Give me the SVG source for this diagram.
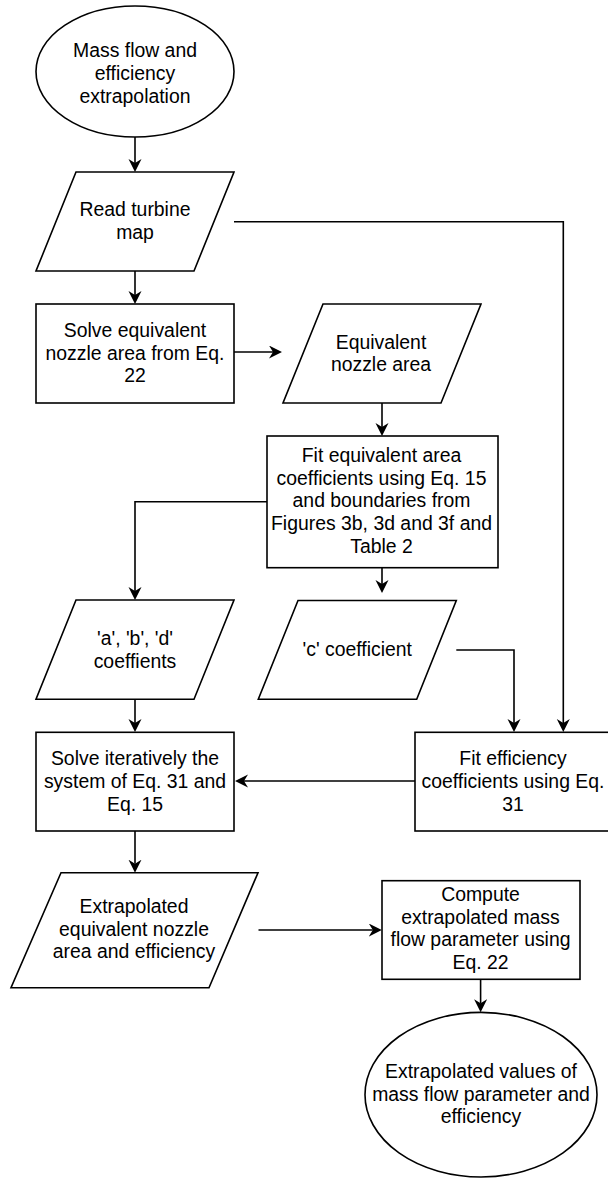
<svg xmlns="http://www.w3.org/2000/svg" width="608" height="1178" viewBox="0 0 608 1178">
<style>
.s{fill:#fff;stroke:#000;stroke-width:1.6}
.c{fill:none;stroke:#000;stroke-width:1.6}
text{font-family:"Liberation Sans",Arial,Helvetica,sans-serif;font-size:19.4px;fill:#000;text-anchor:middle}
</style>
<defs>
<marker id="ah" markerUnits="userSpaceOnUse" markerWidth="14" markerHeight="14" viewBox="0 0 14 14" refX="4" refY="6.5" orient="auto">
<path d="M0,0 L13,6.5 L0,13 L4,6.5 Z" fill="#000"/>
</marker>
</defs>
<rect width="608" height="1178" fill="#fff"/>
<g id="connectors">
<path class="c" d="M135,137 V163" marker-end="url(#ah)"/>
<path class="c" d="M135,271 V295" marker-end="url(#ah)"/>
<path class="c" d="M234,221.7 H563.3 V723" marker-end="url(#ah)"/>
<path class="c" d="M234,352 H273" marker-end="url(#ah)"/>
<path class="c" d="M382,403 V427" marker-end="url(#ah)"/>
<path class="c" d="M267,501.7 H135 V591" marker-end="url(#ah)"/>
<path class="c" d="M382,567.7 V584" marker-end="url(#ah)"/>
<path class="c" d="M456.3,650 H514 V723" marker-end="url(#ah)"/>
<path class="c" d="M135,699.3 V723" marker-end="url(#ah)"/>
<path class="c" d="M415,781 H244" marker-end="url(#ah)"/>
<path class="c" d="M135,831 V863.7" marker-end="url(#ah)"/>
<path class="c" d="M258.5,930 H372.8" marker-end="url(#ah)"/>
<path class="c" d="M480.6,979.3 V1003.3" marker-end="url(#ah)"/>
</g>
<g id="start">
<ellipse class="s" cx="135" cy="71.5" rx="99" ry="65.5"/>
<text x="135" y="57">Mass flow and</text>
<text x="135" y="80">efficiency</text>
<text x="135" y="103">extrapolation</text>
</g>
<g id="read-map">
<polygon class="s" points="76,172 234,172 194,271 36,271"/>
<text x="135" y="216">Read turbine</text>
<text x="135" y="239">map</text>
</g>
<g id="solve-area">
<rect class="s" x="36" y="304" width="198" height="99"/>
<text x="135" y="337">Solve equivalent</text>
<text x="135" y="359.7">nozzle area from Eq.</text>
<text x="135" y="382.4">22</text>
</g>
<g id="eq-area">
<polygon class="s" points="323,304 481,304 441,403 283,403"/>
<text x="381" y="348.5">Equivalent</text>
<text x="381" y="371">nozzle area</text>
</g>
<g id="fit-area">
<rect class="s" x="267" y="436" width="231" height="131.7"/>
<text x="381.5" y="461.7">Fit equivalent area</text>
<text x="381.5" y="484.5">coefficients using Eq. 15</text>
<text x="381.5" y="507.3">and boundaries from</text>
<text x="381.5" y="530.1">Figures 3b, 3d and 3f and</text>
<text x="381.5" y="552.9">Table 2</text>
</g>
<g id="abd">
<polygon class="s" points="76,600 234,600 194,699.3 36,699.3"/>
<text x="135" y="645">'a', 'b', 'd'</text>
<text x="135" y="667.5">coeffients</text>
</g>
<g id="c-coef">
<polygon class="s" points="298,600.5 456.3,600.5 416.7,699.3 258.3,699.3"/>
<text x="357.3" y="656">'c' coefficient</text>
</g>
<g id="fit-eff">
<rect class="s" x="415" y="732.3" width="198" height="98.7"/>
<text x="513" y="765">Fit efficiency</text>
<text x="513" y="787.7">coefficients using Eq.</text>
<text x="513" y="810.5">31</text>
</g>
<g id="solve-iter">
<rect class="s" x="36" y="732.3" width="198" height="98.7"/>
<text x="135" y="765">Solve iteratively the</text>
<text x="135" y="787.7">system of Eq. 31 and</text>
<text x="135" y="810.5">Eq. 15</text>
</g>
<g id="extrap">
<polygon class="s" points="61,872.7 258,872.7 209,987.7 11,987.7"/>
<text x="134" y="912.7">Extrapolated</text>
<text x="134" y="935.5">equivalent nozzle</text>
<text x="134" y="958.3">area and efficiency</text>
</g>
<g id="compute">
<rect class="s" x="382" y="880.7" width="198" height="98.6"/>
<text x="480.5" y="900.7">Compute</text>
<text x="480.5" y="923.5">extrapolated mass</text>
<text x="480.5" y="946.3">flow parameter using</text>
<text x="480.5" y="969.1">Eq. 22</text>
</g>
<g id="end">
<ellipse class="s" cx="481" cy="1094.7" rx="116" ry="82.3"/>
<text x="481" y="1077.7">Extrapolated values of</text>
<text x="481" y="1100.5">mass flow parameter and</text>
<text x="481" y="1123.3">efficiency</text>
</g>
</svg>
